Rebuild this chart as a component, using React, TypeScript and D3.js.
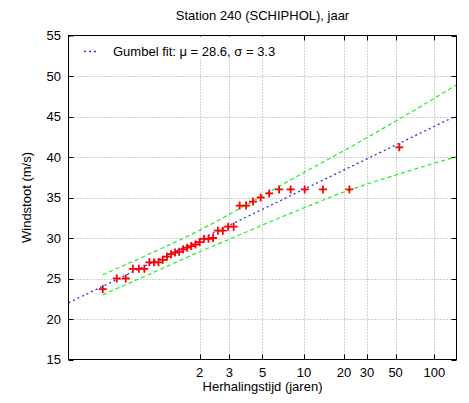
import React from "react";
import * as d3 from "d3";

// ---- data ----
const returnPeriodTicks = [2, 3, 5, 10, 20, 30, 50, 100];
const windTicks = [15, 20, 25, 30, 35, 40, 45, 50, 55];
// annual maximum wind gusts (m/s), sorted ascending
const annualMaxGust = [
  23.7, 25.0, 25.0, 26.2, 26.2, 26.2, 27.0, 27.0, 27.0, 27.3,
  27.7, 28.0, 28.2, 28.3, 28.6, 28.8, 29.0, 29.2, 29.5, 29.9,
  29.9, 30.0, 30.9, 30.9, 31.4, 31.4, 34.0, 34.0, 34.5, 35.0,
  35.5, 36.0, 36.0, 36.0, 36.0, 36.0, 41.2,
];
const gumbelMu = 28.6;
const gumbelSigma = 3.3;
// confidence band (reduced variate -> m/s)
const bandReducedVariate = [-1.381, -0.5, 0.3665, 1.0, 1.5, 2.25, 3.0, 3.9, 5.0];
const bandUpper = [25.48, 28.15, 30.96, 33.3, 35.23, 38.09, 40.9, 44.42, 48.9];
const bandLower = [23.0, 25.65, 28.31, 30.13, 31.6, 33.73, 35.75, 37.77, 40.03];

const W = 469;
const H = 403;
const FONT = "'Liberation Sans', Arial, Helvetica, sans-serif";

const reduced = (T: number) => -Math.log(-Math.log(1 - 1 / T));

export default function App() {
  const x = d3.scaleLinear().domain([-2, 5]).range([68.5, 456.5]);
  const y = d3.scaleLinear().domain([15, 55]).range([359.5, 35.5]);
  const [x0, x1] = x.range();
  const [yb, yt] = y.range();

  const n = annualMaxGust.length;
  const points = annualMaxGust.map((v, i) => {
    const F = (i + 1 - 0.3) / (n + 0.4);
    return { rv: -Math.log(-Math.log(F)), v };
  });

  const fitDomain = x.domain();
  const fitLine = d3
    .line<number>()
    .x((d) => x(d))
    .y((d) => y(gumbelMu + gumbelSigma * d))(fitDomain);

  const bandLine = (vals: number[]) =>
    d3
      .line<number>()
      .x((_, i) => x(bandReducedVariate[i]))
      .y((d) => y(d))
      .curve(d3.curveMonotoneX)(vals);

  const tickLen = 5;

  return (
    <svg
      width={W}
      height={H}
      style={{ position: "absolute", left: 0, top: 0, background: "#fff" }}
      fontFamily={FONT}
      fontSize={13}
    >
      <defs>
        <clipPath id="plot">
          <rect x={x0} y={yt} width={x1 - x0} height={yb - yt} />
        </clipPath>
      </defs>
      <rect x={0} y={0} width={W} height={H} fill="#fff" />

      {/* grid */}
      <g stroke="#a0a0a0" strokeWidth={1} strokeDasharray="1,2">
        {windTicks
          .filter((t) => t > 15 && t < 55)
          .map((t) => (
            <line key={"gy" + t} x1={x0} x2={x1} y1={Math.round(y(t)) + 0.5} y2={Math.round(y(t)) + 0.5} />
          ))}
        {returnPeriodTicks.map((T) => (
          <line
            key={"gx" + T}
            x1={Math.round(x(reduced(T))) + 0.5}
            x2={Math.round(x(reduced(T))) + 0.5}
            y1={yt}
            y2={yb}
          />
        ))}
      </g>

      {/* ticks */}
      <g stroke="#000" strokeWidth={1}>
        {windTicks.map((t) => {
          const py = Math.round(y(t)) + 0.5;
          return (
            <g key={"ty" + t}>
              <line x1={x0} x2={x0 + tickLen} y1={py} y2={py} />
              <line x1={x1} x2={x1 - tickLen} y1={py} y2={py} />
            </g>
          );
        })}
        {returnPeriodTicks.map((T) => {
          const px = Math.round(x(reduced(T))) + 0.5;
          return (
            <g key={"tx" + T}>
              <line x1={px} x2={px} y1={yb} y2={yb - tickLen} />
              <line x1={px} x2={px} y1={yt} y2={yt + tickLen} />
            </g>
          );
        })}
      </g>

      {/* legend background (opaque key) */}
      <rect x={x0 + 1} y={yt + 1} width={212} height={21} fill="#fff" />

      {/* series */}
      <g clipPath="url(#plot)" fill="none">
        <path d={bandLine(bandUpper) || ""} stroke="#22ee22" strokeWidth={1.2} strokeDasharray="4,3" />
        <path d={bandLine(bandLower) || ""} stroke="#22ee22" strokeWidth={1.2} strokeDasharray="4,3" />
        <path d={fitLine || ""} stroke="#2a2aff" strokeWidth={1.3} strokeDasharray="2,3" />
        <g stroke="#ff0000" strokeWidth={1.8}>
          {points.map((p, i) => {
            const px = x(p.rv);
            const py = y(p.v);
            return <path key={i} d={`M${px - 4},${py}h8M${px},${py - 4}v8`} />;
          })}
        </g>
      </g>

      {/* border */}
      <rect x={x0} y={yt} width={x1 - x0} height={yb - yt} fill="none" stroke="#000" strokeWidth={1} />

      {/* legend */}
      <line x1={84} x2={99} y1={51.5} y2={51.5} stroke="#2a2aff" strokeWidth={1.3} strokeDasharray="2,3" />
      <text x={113} y={56} fill="#000">
        Gumbel fit: μ = 28.6, σ = 3.3
      </text>

      {/* tick labels */}
      {windTicks.map((t) => (
        <text key={"ly" + t} x={61} y={y(t)} dy="0.35em" textAnchor="end" fill="#000">
          {t}
        </text>
      ))}
      {returnPeriodTicks.map((T) => (
        <text key={"lx" + T} x={x(reduced(T))} y={377} textAnchor="middle" fill="#000">
          {T}
        </text>
      ))}

      {/* titles */}
      <text x={(x0 + x1) / 2} y={20} textAnchor="middle" fill="#000">
        Station 240 (SCHIPHOL), jaar
      </text>
      <text x={(x0 + x1) / 2} y={391} textAnchor="middle" fill="#000">
        Herhalingstijd (jaren)
      </text>
      <text
        transform={`translate(31,${(yt + yb) / 2}) rotate(-90)`}
        textAnchor="middle"
        fill="#000"
      >
        Windstoot (m/s)
      </text>
    </svg>
  );
}
